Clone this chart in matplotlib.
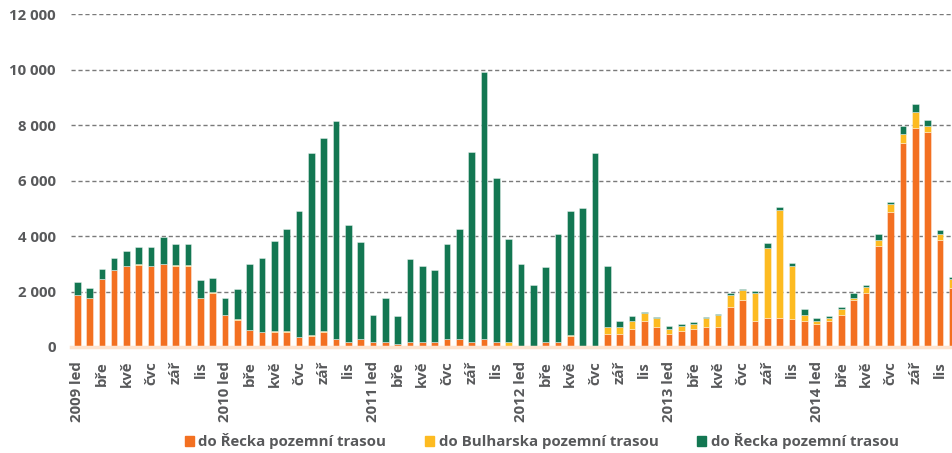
import numpy as np
import matplotlib
matplotlib.use("Agg")
import matplotlib.pyplot as plt
from matplotlib.patches import Patch

plt.rcParams["font.family"] = ["Open Sans", "DejaVu Sans"]

# monthly values, 2009 Jan - 2014 Dec
greece_land = [1880, 1780, 2455, 2780, 2935, 2970, 2910, 2985, 2910, 2935, 1780, 1940,
               1155, 975, 615, 540, 530, 530, 370, 395, 530, 280, 170, 280,
               170, 170, 95, 170, 170, 170, 280, 280, 170, 280, 170, 0,
               50, 50, 170, 170, 395, 50, 0, 480, 480, 640, 950, 735,
               480, 580, 640, 735, 735, 1455, 1710, 950, 1060, 1060, 1020, 950,
               840, 950, 1165, 1710, 1950, 3655, 4865, 7375, 7895, 7770, 3875, 2140]
bulgaria_land = [0, 0, 0, 0, 0, 20, 30, 0, 40, 30, 0, 30,
                 0, 40, 0, 0, 40, 40, 0, 30, 40, 0, 0, 0,
                 0, 0, 0, 0, 0, 0, 0, 0, 0, 0, 0, 170,
                 0, 0, 0, 0, 30, 0, 0, 240, 240, 310, 270, 325,
                 170, 180, 200, 325, 420, 420, 340, 1000, 2500, 3885, 1890, 205,
                 85, 85, 205, 70, 205, 205, 300, 305, 580, 220, 205, 325]
greece_other = [460, 340, 350, 430, 520, 610, 680, 975, 750, 740, 630, 520,
                625, 1070, 2370, 2670, 3270, 3680, 4540, 6570, 6975, 7880, 4245, 3510,
                985, 1610, 1025, 3005, 2745, 2600, 3450, 3970, 6860, 9660, 5920, 3730,
                2935, 2180, 2720, 3910, 4480, 4960, 6990, 2190, 230, 170, 35, 35,
                95, 70, 75, 35, 35, 75, 45, 70, 200, 120, 120, 215,
                110, 95, 60, 180, 85, 220, 80, 300, 300, 205, 145, 70]

months = ["led", "bře", "kvě", "čvc", "zář", "lis"]
years = ["2009", "2010", "2011", "2012", "2013", "2014"]
series_names = ["do Řecka pozemní trasou", "do Bulharska pozemní trasou",
                "do Řecka pozemní trasou"]

c_orange = "#f37021"
c_yellow = "#fdbb21"
c_green = "#137752"
grey = "#58595b"

x = np.arange(len(greece_land))
g = np.array(greece_land)
b = np.array(bulgaria_land)
o = np.array(greece_other)

fig = plt.figure(figsize=(9.52, 4.53), dpi=100)
ax = fig.add_axes([0.0746, 0.234, 0.9254, 0.734])

w = 0.54
edge = dict(edgecolor=(1, 1, 1, 0.45), linewidth=0.6)
ax.bar(x, g, w, color=c_orange, zorder=3, **edge)
ax.bar(x, b, w, bottom=g, color=c_yellow, zorder=3, **edge)
ax.bar(x, o, w, bottom=g + b, color=c_green, zorder=3, **edge)

ax.set_ylim(0, 12000)
ax.set_xlim(-0.5, 70.97)
ax.set_yticks(np.arange(0, 12001, 2000))
ax.set_yticklabels([f"{v:,}".replace(",", " ") for v in range(0, 12001, 2000)])

labels = []
for i in range(0, len(x), 2):
    m = months[(i % 12) // 2]
    labels.append(f"{years[i // 12]} {m}" if i % 12 == 0 else m)
ax.set_xticks(x[::2])
ax.set_xticklabels(labels, rotation=90, va="top", ha="center")

for t in ax.get_xticklabels() + ax.get_yticklabels():
    t.set_fontweight("bold")
    t.set_color(grey)
    t.set_fontsize(10.8)
ax.tick_params(length=0)
ax.tick_params(axis="y", pad=11)
ax.tick_params(axis="x", pad=10)

for v in range(2000, 12001, 2000):
    ax.axhline(v, color="#7a7a7a", lw=1, ls=(0, (3, 2)), zorder=1)

for s in ["top", "right", "left"]:
    ax.spines[s].set_visible(False)
ax.spines["bottom"].set_color("#fde3cf")
ax.spines["bottom"].set_linewidth(2.5)
ax.spines["bottom"].set_zorder(4)

handles = [Patch(color=c) for c in (c_orange, c_yellow, c_green)]
leg = fig.legend(handles, series_names, loc="center", bbox_to_anchor=(0.569, 0.026),
                 ncol=3, frameon=False, handlelength=0.6, handleheight=0.6,
                 handletextpad=0.3, columnspacing=2.6,
                 prop={"weight": "bold", "size": 10.8})
for t in leg.get_texts():
    t.set_color(grey)

fig.savefig("out.png", dpi=100)
